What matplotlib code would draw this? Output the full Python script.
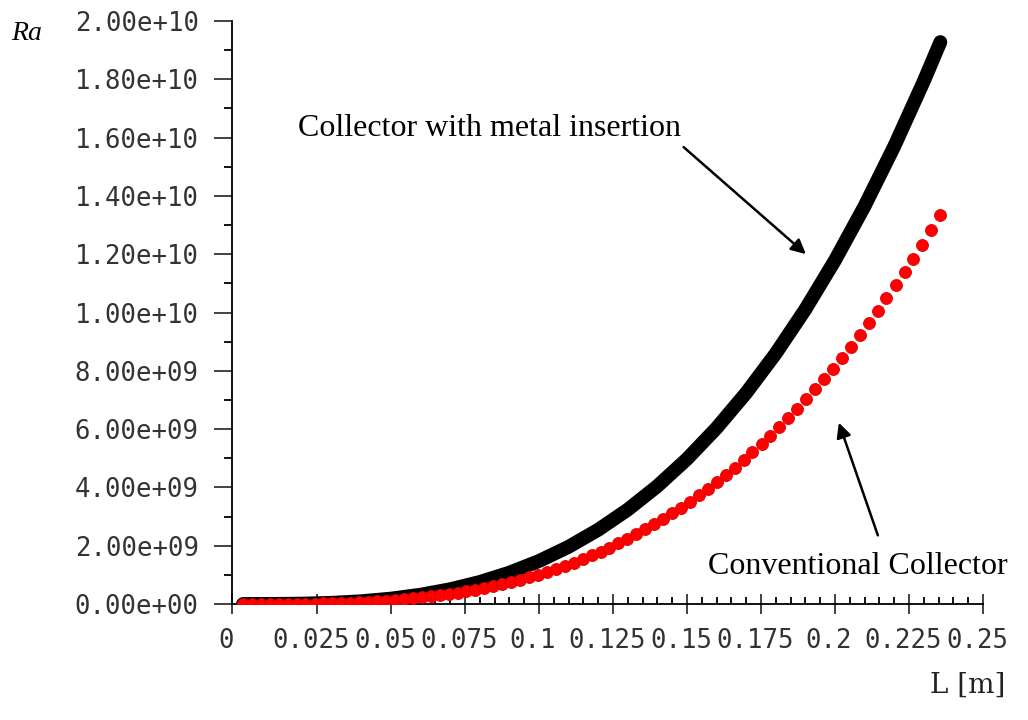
import numpy as np
import matplotlib.pyplot as plt
from matplotlib.ticker import MultipleLocator, FixedLocator, FuncFormatter
from matplotlib.transforms import ScaledTranslation

# Conventional collector (red dots), Ra in units of 1e9
L_conv = [0.0, 0.0030, 0.0060, 0.0091, 0.0121, 0.0151, 0.0181, 0.0211, 0.0242, 0.0272,
          0.0302, 0.0332, 0.0362, 0.0393, 0.0423, 0.0453, 0.0483, 0.0513, 0.0544, 0.0574,
          0.0604, 0.0634, 0.0664, 0.0695, 0.0725, 0.0755, 0.0785, 0.0815, 0.0846, 0.0876,
          0.0906, 0.0936, 0.0966, 0.0997, 0.1027, 0.1057, 0.1087, 0.1117, 0.1148, 0.1178,
          0.1208, 0.1238, 0.1268, 0.1299, 0.1329, 0.1359, 0.1389, 0.1419, 0.1450, 0.1480,
          0.1510, 0.1540, 0.1570, 0.1601, 0.1631, 0.1661, 0.1691, 0.1721, 0.1752, 0.1782,
          0.1812, 0.1842, 0.1872, 0.1903, 0.1933, 0.1963, 0.1993, 0.2023, 0.2054, 0.2084,
          0.2114, 0.2144, 0.2174, 0.2205, 0.2235, 0.2265, 0.2295, 0.2325, 0.2356]
Ra_conv = [0.0, 0.0000, 0.0002, 0.0008, 0.0018, 0.0035, 0.0061, 0.0096, 0.0144, 0.0205,
           0.0281, 0.0374, 0.0485, 0.0617, 0.0771, 0.0948, 0.1151, 0.1380, 0.1638, 0.1927,
           0.2248, 0.2602, 0.2991, 0.3418, 0.3884, 0.4390, 0.4938, 0.5530, 0.6167, 0.6852,
           0.7585, 0.8370, 0.9206, 1.0096, 1.1042, 1.2045, 1.3108, 1.4230, 1.5416, 1.6665,
           1.7980, 1.9363, 2.0814, 2.2337, 2.3932, 2.5601, 2.7345, 2.9168, 3.1070, 3.3052,
           3.5118, 3.7267, 3.9502, 4.1825, 4.4238, 4.6741, 4.9337, 5.2028, 5.4815, 5.7699,
           6.0683, 6.3768, 6.6956, 7.0248, 7.3647, 7.7153, 8.0769, 8.4496, 8.8337, 9.2291,
           9.6362, 10.0551, 10.4860, 10.9291, 11.3844, 11.8522, 12.3326, 12.8259, 13.3321]

# Collector with metal insertion (black, dense band), Ra in units of 1e9
L_metal = [0.0, 0.01, 0.02, 0.03, 0.04, 0.05, 0.06, 0.07, 0.08, 0.09, 0.10, 0.11,
           0.12, 0.13, 0.14, 0.15, 0.16, 0.17, 0.18, 0.19, 0.20, 0.21, 0.22, 0.23, 0.2356]
Ra_metal = [0.0, 0.0015, 0.0118, 0.0398, 0.0943, 0.1843, 0.3184, 0.5056, 0.7547, 1.0745,
            1.474, 1.962, 2.547, 3.238, 4.045, 4.975, 6.038, 7.242, 8.596, 10.110,
            11.792, 13.651, 15.695, 17.934, 19.277]

x_ticks = [0.025, 0.05, 0.075, 0.1, 0.125, 0.15, 0.175, 0.2, 0.225, 0.25]
x_left = -0.0037

fig = plt.figure(figsize=(10.28, 7.2), dpi=100)
ax = fig.add_axes([0.2257, 0.1611, 0.7305, 0.8097])

ax.plot(L_metal, np.array(Ra_metal) * 1e9, color="black", lw=10,
        solid_capstyle="round", solid_joinstyle="round", zorder=2)
ax.plot(L_conv, np.array(Ra_conv) * 1e9, "o", color="#ff0000", ms=8.6,
        mec="#e00000", mew=0.6, zorder=3)

ax.set_xlim(x_left, 0.25)
ax.set_ylim(0, 2e10)

for s in ["top", "right"]:
    ax.spines[s].set_visible(False)
ax.spines["left"].set_linewidth(1.3)
ax.spines["bottom"].set_linewidth(1.3)

mono = "DejaVu Sans Mono"
ax.yaxis.set_major_locator(MultipleLocator(2e9))
ax.yaxis.set_minor_locator(MultipleLocator(1e9))
ax.yaxis.set_major_formatter(FuncFormatter(lambda v, p: "%.2e" % v))
ax.tick_params(axis="y", which="major", direction="out", length=13, width=1.3,
               pad=11, labelsize=18.5, colors="#333333")
ax.tick_params(axis="y", which="minor", direction="out", length=6, width=1.3)

ax.xaxis.set_major_locator(FixedLocator([x_left] + x_ticks))
ax.xaxis.set_minor_locator(MultipleLocator(0.005))
ax.set_xticklabels(["0"] + ["%g" % t for t in x_ticks])
ax.tick_params(axis="x", which="major", direction="inout", length=14, width=1.3,
               pad=10, labelsize=18.5, colors="#333333")
ax.tick_params(axis="x", which="minor", direction="in", length=5, width=1.3)
for lab in ax.get_xticklabels() + ax.get_yticklabels():
    lab.set_family(mono)
for lab in ax.get_xticklabels():
    lab.set_transform(lab.get_transform() + ScaledTranslation(-6 / 100, 0, fig.dpi_scale_trans))

fig.text(0.011, 0.954, "Ra", family="Liberation Serif", style="italic",
         fontsize=20, va="center", ha="left")
fig.text(0.978, 0.048, "L [m]", family="DejaVu Serif", fontsize=20,
         va="center", ha="right", color="#222222")

ax.annotate("Collector with metal insertion", xy=(0.1909, 11.94e9),
            xytext=(0.0186, 16.33e9), fontsize=23, family="Liberation Serif",
            va="center", ha="left",
            arrowprops=dict(arrowstyle="-|>", color="black", lw=1.8,
                            mutation_scale=22, relpos=(0.98, 0.15)))
ax.annotate("Conventional Collector", xy=(0.201, 6.31e9),
            xytext=(0.1571, 1.27e9), fontsize=23, family="Liberation Serif",
            va="center", ha="left",
            arrowprops=dict(arrowstyle="-|>", color="black", lw=1.8,
                            mutation_scale=22, relpos=(0.57, 1.5)))

fig.savefig("out.png", dpi=100, facecolor="white")
